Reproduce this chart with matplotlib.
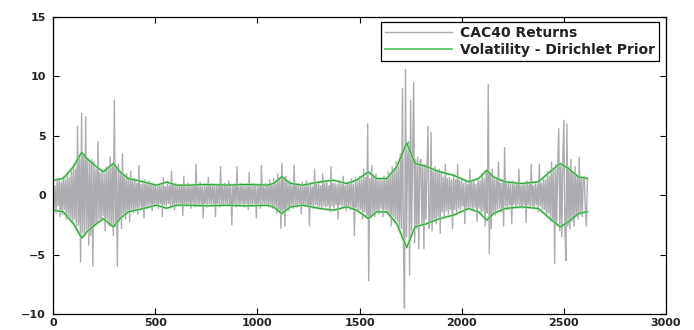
import numpy as np
import matplotlib
matplotlib.use("Agg")
import matplotlib.pyplot as plt

plt.rcParams['font.family'] = ['DejaVu Sans']
plt.rcParams['font.weight'] = 'bold'

# CAC40 daily returns, one reading every 5 days (t = 0, 5, ..., 2615)
ret_step = 5
returns = [
    1.0, -1.3, 0.8, -1.5, 1.2, -0.9, 1.4, -1.8, 1.1, -1.6, 1.6, -1.2, 1.3, -2.0, 1.9, -1.7, 1.5, -2.2, 2.0, -2.4,
    2.6, -2.0, 2.2, -3.0, 5.8, -2.5, 3.0, -5.6, 6.9, -3.2, 3.4, -3.5, 6.6, -3.0, 3.1, -4.2, 2.8, -3.4, 3.0, -6.0,
    2.8, -2.6, 2.2, -2.4, 4.5, -2.0, 1.9, -2.2, 2.0, -1.7, 1.8, -3.0, 2.4, -2.0, 2.2, -2.6, 3.2, -2.4, 2.5, -3.4,
    8.0, -2.6, 2.2, -6.0, 2.6, -2.2, 2.0, -2.8, 3.5, -1.8, 1.6, -2.0, 1.8, -1.5, 1.4, -2.2, 2.0, -1.2, 1.3, -1.5,
    1.4, -1.1, 1.0, -1.6, 2.5, -1.0, 0.9, -1.2, 1.1, -1.9, 1.3, -0.9, 1.0, -1.0, 1.2, -0.8, 0.9, -1.3, 1.0, -0.8,
    0.9, -0.8, 0.7, -1.1, 1.0, -0.7, 0.8, -1.8, 1.5, -0.8, 0.7, -0.9, 1.2, -0.7, 0.8, -1.0, 2.0, -0.8, 0.9, -1.2,
    1.0, -0.7, 0.8, -0.8, 0.9, -0.7, 0.8, -1.7, 1.6, -0.8, 0.7, -0.9, 1.0, -0.7, 0.8, -1.1, 0.9, -0.7, 0.8, -1.0,
    2.6, -0.8, 0.7, -0.9, 1.1, -0.8, 0.7, -1.9, 0.8, -0.7, 0.8, -1.0, 1.5, -0.7, 0.8, -0.8, 0.9, -0.7, 0.8, -1.8,
    0.9, -0.7, 0.8, -1.0, 2.4, -0.8, 0.7, -0.8, 1.0, -0.7, 0.8, -0.9, 1.2, -0.8, 0.7, -2.5, 0.9, -0.7, 0.8, -1.0,
    2.4, -0.8, 0.7, -0.9, 1.0, -0.7, 0.8, -1.0, 0.8, -0.7, 0.8, -1.2, 1.9, -0.8, 0.7, -0.9, 1.0, -0.7, 0.8, -1.9,
    0.9, -0.7, 0.8, -1.1, 2.5, -0.8, 0.7, -0.8, 1.0, -0.7, 0.8, -1.0, 1.3, -0.8, 0.9, -1.1, 1.4, -0.9, 1.0, -1.5,
    1.8, -1.2, 1.3, -2.8, 2.7, -1.4, 1.5, -2.6, 1.6, -1.1, 1.0, -1.3, 1.2, -0.9, 0.8, -1.1, 2.5, -0.8, 0.9, -1.0,
    1.0, -0.7, 0.8, -1.6, 1.1, -0.8, 0.7, -0.9, 1.2, -0.8, 0.8, -2.6, 1.0, -0.8, 0.7, -1.1, 2.2, -0.8, 0.9, -1.0,
    1.1, -0.9, 0.8, -1.2, 1.8, -0.9, 1.0, -1.0, 1.2, -0.9, 0.8, -1.4, 2.4, -0.9, 1.0, -1.1, 1.0, -0.8, 0.9, -2.0,
    1.2, -0.8, 0.9, -1.0, 1.6, -0.9, 0.8, -1.3, 1.1, -0.9, 1.0, -1.2, 1.4, -1.0, 0.9, -3.4, 1.5, -1.0, 1.1, -1.4,
    1.6, -1.2, 1.3, -2.0, 2.2, -1.4, 1.5, -1.8, 6.0, -7.2, 1.4, -1.9, 2.5, -1.6, 1.5, -1.8, 1.8, -1.4, 1.3, -1.6,
    1.4, -1.1, 1.2, -1.8, 1.6, -1.2, 1.3, -1.5, 2.0, -1.6, 1.7, -2.6, 2.4, -1.8, 2.0, -2.0, 2.8, -2.2, 2.4, -3.0,
    3.5, -2.8, 9.0, -4.0, -9.5, 10.6, -3.5, 3.0, 4.5, -6.7, 8.0, -3.0, 3.5, 9.5, -4.0, 3.0, -2.8, 3.2, -4.5, 2.8,
    3.0, -2.4, 2.6, -4.5, 2.6, -2.0, 2.2, 5.8, -2.8, -2.2, 5.3, -3.0, 2.0, -2.2, 2.4, -2.4, 2.0, -1.8, 2.2, -3.2,
    2.0, -1.4, 1.5, -1.8, 2.6, -1.3, 1.4, -1.6, 1.5, -1.2, 1.3, -2.8, 1.6, -1.2, 1.3, -1.4, 2.6, -1.1, 1.2, -1.2,
    1.2, -0.9, 1.0, -2.4, 1.3, -1.0, 0.9, -1.1, 2.2, -1.0, 1.1, -1.3, 1.2, -1.0, 0.9, -2.2, 1.4, -1.1, 1.2, -1.6,
    1.8, -1.3, 1.4, -2.6, 2.0, -1.5, 9.3, -4.9, 1.8, -2.8, 2.2, -1.4, 1.3, -1.6, 1.5, -1.2, 2.8, -1.1, 1.0, -1.4,
    1.3, -2.6, 4.0, -0.9, 1.0, -1.2, 1.1, -0.8, 0.9, -2.4, 1.2, -0.8, 0.9, -1.0, 1.0, -0.8, 2.2, -0.9, 0.8, -1.1,
    1.0, -0.8, 0.9, -2.3, 1.2, -0.8, 0.9, -1.0, 2.6, -0.9, 0.8, -1.1, 1.0, -0.8, 0.9, -1.4, 2.6, -0.9, 1.0, -1.2,
    1.4, -1.2, 1.3, -1.8, 2.0, -1.5, 1.6, -2.2, 2.8, -2.0, 2.2, -5.75, 2.6, -2.4, 2.5, 5.6, -3.0, 2.6, -3.5, 3.0,
    6.3, -2.8, -5.5, 6.0, -2.6, 2.4, -2.8, 3.0, -2.2, 2.0, -2.6, 2.4, -1.8, 1.6, -2.0, 3.2, -1.6, 1.4, -1.8, 1.5,
    1.6, -1.2, -2.6, 1.3,
]

# estimated volatility (Dirichlet prior), read at these days
vol_t = [0, 50, 100, 140, 165, 205, 246, 295, 328, 369, 442, 507, 556, 605,
         654, 750, 850, 950, 1050, 1080, 1120, 1160, 1220, 1307, 1372, 1437,
         1486, 1543, 1584, 1633, 1682, 1731, 1772, 1829, 1894, 1960, 2033,
         2082, 2123, 2155, 2212, 2294, 2375, 2441, 2482, 2522, 2571, 2615]
vol = [1.26, 1.4, 2.4, 3.6, 3.1, 2.5, 1.96, 2.67, 1.96, 1.4, 1.12, 0.84, 1.1,
       0.84, 0.84, 0.9, 0.85, 0.9, 0.85, 1.0, 1.55, 1.0, 0.84, 1.12, 1.26,
       0.98, 1.26, 1.96, 1.4, 1.4, 2.4, 4.4, 2.67, 2.4, 1.96, 1.68, 1.12, 1.4,
       2.1, 1.54, 1.12, 0.98, 1.12, 2.1, 2.67, 2.24, 1.54, 1.4]

t = np.arange(len(returns)) * ret_step
vt = np.array(vol_t)
v = np.array(vol)

fig = plt.figure(figsize=(6.94, 3.30), dpi=100)
ax = fig.add_axes([0.0764, 0.0485, 0.8833, 0.9])

ax.plot(t, returns, color="#acacb0", lw=1.0, label="CAC40 Returns")
# light halo under the volatility bands
ax.plot(vt, v, color="#a6dfa6", lw=1.8)
ax.plot(vt, -v, color="#a6dfa6", lw=1.8)
ax.plot(vt, v, color="#2f9e3a", lw=0.8)
ax.plot(vt, -v, color="#2f9e3a", lw=0.8)
ax.plot([], [], color="#55c05a", lw=1.2, label="Volatility - Dirichlet Prior")

ax.set_xlim(0, 3000)
ax.set_ylim(-10, 15)
ax.set_xticks(range(0, 3001, 500))
ax.set_yticks(range(-10, 16, 5))
ax.tick_params(direction="in", length=4, width=0.8, top=True, right=True,
               labelsize=8, pad=3, labelcolor="#222222")
ax.tick_params(axis="y", pad=5)
for s in ax.spines.values():
    s.set_linewidth(0.9)

handles, labels = ax.get_legend_handles_labels()
leg = ax.legend(handles, labels, loc="upper right",
                bbox_to_anchor=(0.9886, 0.983),
                borderaxespad=0, fontsize=10, handlelength=4.8,
                fancybox=False, edgecolor="black", framealpha=1,
                borderpad=0.3, labelspacing=0.2, handletextpad=0.6)
leg.get_frame().set_linewidth(0.9)
for txt in leg.get_texts():
    txt.set_color("#222222")

fig.savefig("out.png", dpi=100)
